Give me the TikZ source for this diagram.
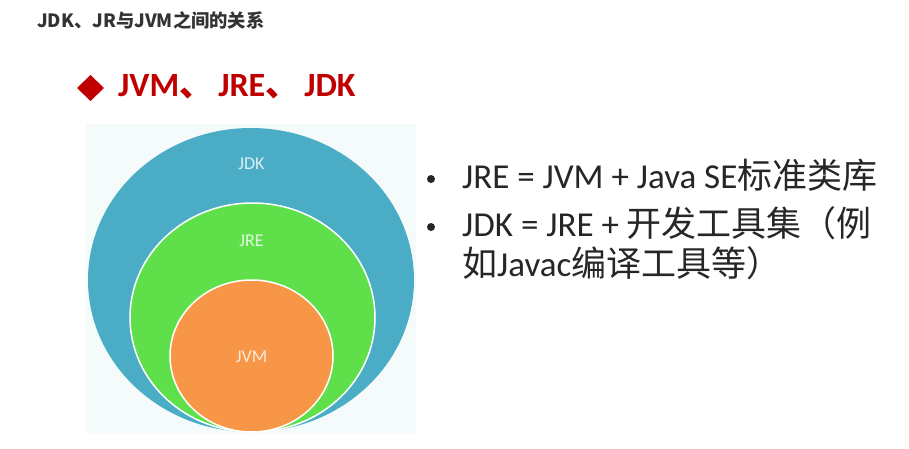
\documentclass[tikz,border=0pt]{standalone}
\usepackage{fontspec}
\setmainfont{Carlito}
\newfontfamily\cjk{Noto Sans CJK SC}
\definecolor{jdkblue}{HTML}{4BACC6}
\definecolor{jregreen}{HTML}{5FE04A}
\definecolor{jvmorange}{HTML}{F79646}
\definecolor{hdrred}{HTML}{C00000}
\definecolor{bodytext}{HTML}{262626}
\definecolor{titletext}{HTML}{333333}
\definecolor{panelbg}{HTML}{F5FBFA}
\tikzset{
  ring/.style={draw=white, line width=1.5pt},
  ringlabel/.style={text=white, text opacity=0.8, font=\fontsize{18}{21}\selectfont, inner sep=0pt},
  bodyline/.style={anchor=base west, inner sep=0pt, text=bodytext, font=\fontsize{35}{40}\selectfont},
  bulletdot/.style={circle, fill=bodytext, inner sep=0pt, minimum size=8pt},
}
\begin{document}
\begin{tikzpicture}[x=1pt,y=-1pt]
\useasboundingbox (0,0) rectangle (909,449);
\fill[white] (0,0) rectangle (909,449);
% title
\node[anchor=base west, inner sep=0pt, text=titletext, font=\cjk\bfseries\fontsize{18.3}{22}\selectfont] (title) at (37,28) {JDK、JR与JVM之间的关系};
% red header
\fill[hdrred] (77,88) -- (90.5,75) -- (104,88) -- (90.5,101) -- cycle;
\node[anchor=base west, inner sep=0pt, text=hdrred, font=\bfseries\fontsize{34}{38}\selectfont] (hdr) at (118,97) {JVM{\cjk 、}\hspace{5pt}JRE{\cjk 、}\hspace{5pt}JDK};
% panel
\fill[panelbg] (86,124) rectangle (416,434);
% circles
\fill[jdkblue] (251,280) ellipse [x radius=163, y radius=152];
\filldraw[ring, fill=jregreen] (252.5,317.5) ellipse [x radius=122.5, y radius=114.5];
\filldraw[ring, fill=jvmorange] (251.5,356) ellipse [x radius=81.5, y radius=76];
\node[ringlabel] (jdk) at (251.5,164) {JDK};
\node[ringlabel] (jre) at (251.5,241) {JRE};
\node[ringlabel] (jvm) at (251.5,357) {JVM};
% bullets
\node[bulletdot] (b1) at (431,179) {};
\node[bulletdot] (b2) at (431,227) {};
\node[bodyline] (l1) at (462,188) {JRE = JVM + Java SE{\cjk 标准类库}};
\node[bodyline, text depth=0pt] (l2) at (462,236) {JDK = JRE + {\cjk 开发工具集（例}};
\node[bodyline, text height=28pt] (l3) at (462,276) {{\cjk 如}Javac{\cjk 编译工具等）}};
\end{tikzpicture}
\end{document}
